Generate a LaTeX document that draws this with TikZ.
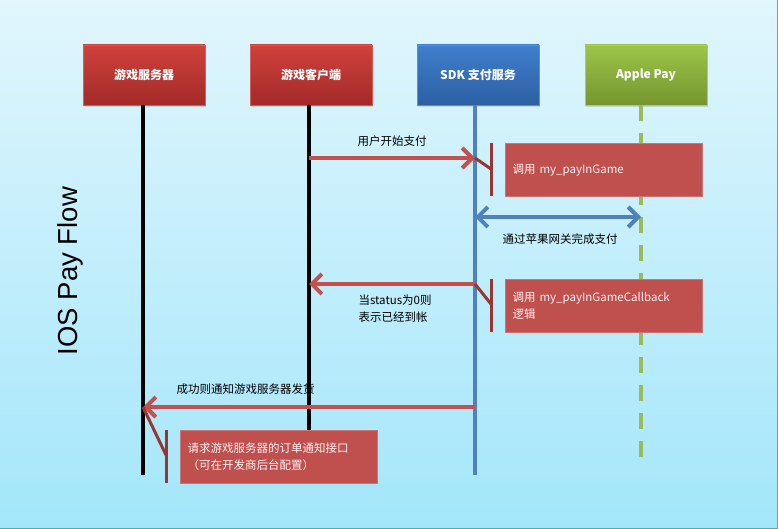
\documentclass[tikz,border=0pt]{standalone}
\usepackage{fontspec}
\setmainfont{Noto Sans CJK SC}
\newfontfamily\titlefont{Liberation Sans}
\usepackage{tikz}
\usetikzlibrary{arrows.meta,calc,shadows}
\definecolor{bgtop}{RGB}{225,246,253}
\definecolor{bgbot}{RGB}{163,230,250}
\definecolor{redtop}{RGB}{207,65,60}
\definecolor{redbot}{RGB}{163,42,40}
\definecolor{bluetop}{RGB}{63,127,205}
\definecolor{bluebot}{RGB}{44,95,162}
\definecolor{greentop}{RGB}{156,197,72}
\definecolor{greenbot}{RGB}{117,150,47}
\definecolor{notered}{RGB}{192,80,77}
\definecolor{msgred}{RGB}{196,80,78}
\definecolor{lifeblue}{RGB}{79,129,189}
\definecolor{lifegreen}{RGB}{155,187,89}
\definecolor{bracketred}{RGB}{150,55,52}
\definecolor{frame}{RGB}{75,172,198}

\begin{document}
\begin{tikzpicture}[x=1pt,y=-1pt,
    head/.style={minimum width=122pt, minimum height=60pt, inner sep=0pt,
        text=white, font=\bfseries\fontsize{12}{14}\selectfont,
        drop shadow={opacity=.25, shadow xshift=1pt, shadow yshift=-2pt}},
    note/.style={fill=notered, draw=notered!80!white, anchor=north west,
        inner sep=0pt, text=white!95!red, align=left,
        font=\fontsize{11.5}{17}\selectfont},
    msg/.style={draw=msgred, line width=4pt, -{Straight Barb[length=10pt,width=20pt]}},
    life/.style={line width=4pt},
    bracket/.style={draw=bracketred, line width=3pt},
    lbl/.style={font=\fontsize{11.5}{17}\selectfont, align=left}]
\useasboundingbox (0,0) rectangle (778,529);
\shade[top color=bgtop, bottom color=bgbot] (0,0) rectangle (778,529);
\draw[frame, line width=1pt] (777.5,0) -- (777.5,528.5) -- (0,528.5);

\node[head, top color=redtop, bottom color=redbot, draw=redtop!85!white] (srv) at (144,75) {游戏服务器};
\node[head, top color=redtop, bottom color=redbot, draw=redtop!85!white] (cli) at (311,75) {游戏客户端};
\node[head, top color=bluetop, bottom color=bluebot, draw=bluetop!85!white] (sdk) at (478,75) {SDK 支付服务};
\node[head, top color=greentop, bottom color=greenbot, draw=greentop!85!white] (apl) at (646,75) {Apple Pay};

\coordinate (srvEnd) at (143,475);
\coordinate (cliEnd) at (309,430);
\coordinate (sdkEnd) at (475,475);
\coordinate (aplEnd) at (641,468);

\draw[life, black] (srv.south -| srvEnd) -- (srvEnd);
\draw[life, black] (cli.south -| cliEnd) -- (cliEnd);
\draw[life, lifeblue] (sdk.south -| sdkEnd) -- (sdkEnd);
\draw[life, lifegreen, dash pattern=on 16pt off 12pt] (apl.south -| aplEnd) -- (aplEnd);

\node[note, minimum width=197pt, minimum height=53pt, text width=188pt] (n1) at (505,143) {\hspace*{3pt}调用 my\_payInGame};
\node[note, minimum width=197pt, minimum height=53pt, text width=188pt] (n2) at (505,279) {\hspace*{3pt}调用 my\_payInGameCallback\\\hspace*{3pt}逻辑};
\node[note, minimum width=197pt, minimum height=53pt, text width=188pt] (n3) at (180,430) {\hspace*{3pt}请求游戏服务器的订单通知接口\\\hspace*{3pt}（可在开发商后台配置）};

\draw[msg] (cliEnd |- 0,158) -- (sdkEnd |- 0,158);
\node[lbl] (l1) at (392,141) {用户开始支付};
\draw[bracket] (sdkEnd |- 0,158) -- (491,169);
\draw[bracket] (491,143) -- (491,196);

\draw[draw=lifeblue, line width=4pt, {Straight Barb[length=10pt,width=20pt]}-{Straight Barb[length=10pt,width=20pt]}] (sdkEnd |- 0,217) -- (aplEnd |- 0,217);
\node[lbl] (l2) at (560,239) {通过苹果网关完成支付};

\draw[msg] (sdkEnd |- 0,284) -- (cliEnd |- 0,284);
\node[lbl, anchor=north west] (l3) at (355,291) {当status为0则\\表示已经到帐};
\draw[bracket] (sdkEnd |- 0,284) -- (491,304);
\draw[bracket] (491,279) -- (491,332);

\draw[msg] (sdkEnd |- 0,407) -- (srvEnd |- 0,407);
\node[lbl, anchor=west] (l4) at (173,389) {成功则通知游戏服务器发货};
\draw[bracket] (srvEnd |- 0,407) -- (166,455);
\draw[bracket] (166,430) -- (166,483);

\node[rotate=90, font=\titlefont\fontsize{27.5}{30}\selectfont] (ttl) at (70,271) {IOS Pay Flow};
\end{tikzpicture}
\end{document}
